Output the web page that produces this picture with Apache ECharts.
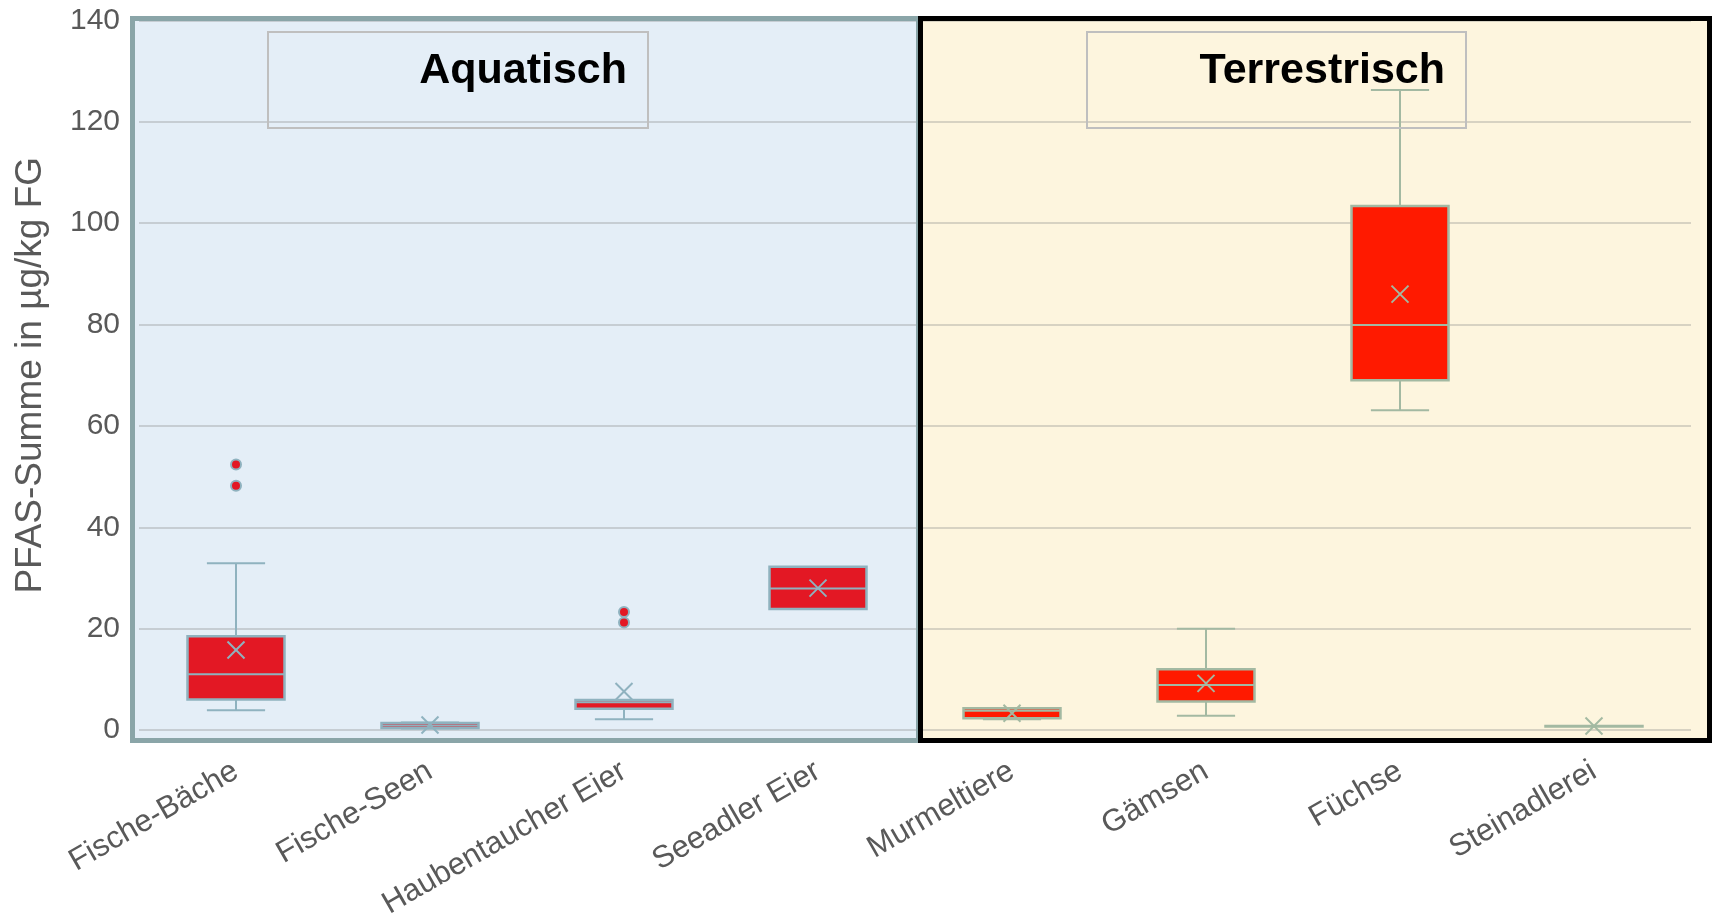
<!DOCTYPE html>
<html><head><meta charset="utf-8">
<script src="https://cdn.jsdelivr.net/npm/echarts@6/dist/echarts.min.js"></script>
<style>html,body{margin:0;padding:0;background:#fff}#c{width:1715px;height:918px}</style>
</head><body><div id="c"></div>
<script>
// ---- data ----
const categories = ['Fische-Bäche', 'Fische-Seen', 'Haubentaucher Eier', 'Seeadler Eier', 'Murmeltiere', 'Gämsen', 'Füchse', 'Steinadlerei'];
const groups = ['aquatisch', 'aquatisch', 'aquatisch', 'aquatisch', 'terrestrisch', 'terrestrisch', 'terrestrisch', 'terrestrisch'];
const minVals  = [3.9, 0.3, 2.1, 23.9, 2.1, 2.8, 63.1, 0.8];
const q1Vals   = [6.0, 0.4, 4.2, 23.9, 2.3, 5.6, 69.0, 0.8];
const medVals  = [11.0, 0.9, 5.5, 27.9, 3.8, 8.9, 79.9, 0.8];
const q3Vals   = [18.5, 1.4, 5.9, 32.2, 4.3, 12.0, 103.4, 0.8];
const maxVals  = [32.9, 1.5, 5.9, 32.2, 4.3, 20.0, 126.3, 0.8];
const meanVals = [15.8, 1.0, 7.6, 28.0, 3.3, 9.2, 86.0, 0.8];
const outlierCats = [0, 0, 2, 2];
const outlierVals = [52.4, 48.2, 23.3, 21.2];
const yMin = 0, yMax = 140, yStep = 20;
const yAxisTitle = 'PFAS-Summe in µg/kg FG';
const panelTitles = ['Aquatisch', 'Terrestrisch'];

// ---- styles ----
const FONT = "'Liberation Sans', Arial, sans-serif";
const styles = {
  aquatisch:   { fill: '#e31824', edge: '#8fb2bf' },
  terrestrisch:{ fill: '#ff1a00', edge: '#a3b9a2' }
};

const boxData = categories.map((c, i) => [i, minVals[i], q1Vals[i], medVals[i], q3Vals[i], maxVals[i], meanVals[i]]);
const outlierData = outlierCats.map((c, i) => [c, outlierVals[i]]);

function renderBox(params, api) {
  const i = api.value(0);
  const mn = api.value(1), q1 = api.value(2), md = api.value(3), q3 = api.value(4), mx = api.value(5), mean = api.value(6);
  const band = api.size([1, 0])[0];
  const bw = band * 0.5;
  const cap = band * 0.15;
  const cx = api.coord([i, 0])[0];
  const y = v => api.coord([i, v])[1];
  const st = styles[groups[i]];
  const ls = { stroke: st.edge, lineWidth: 2, fill: null };
  const ch = [];
  if (mx > q3) {
    ch.push({ type: 'line', shape: { x1: cx, y1: y(q3), x2: cx, y2: y(mx) }, style: ls });
    ch.push({ type: 'line', shape: { x1: cx - cap, y1: y(mx), x2: cx + cap, y2: y(mx) }, style: ls });
  }
  if (mn < q1) {
    ch.push({ type: 'line', shape: { x1: cx, y1: y(q1), x2: cx, y2: y(mn) }, style: ls });
    ch.push({ type: 'line', shape: { x1: cx - cap, y1: y(mn), x2: cx + cap, y2: y(mn) }, style: ls });
  }
  ch.push({ type: 'rect', shape: { x: cx - bw / 2, y: y(q3), width: bw, height: Math.max(y(q1) - y(q3), 0.5) },
            style: { fill: st.fill, stroke: st.edge, lineWidth: 2.5 } });
  ch.push({ type: 'line', shape: { x1: cx - bw / 2, y1: y(md), x2: cx + bw / 2, y2: y(md) }, style: ls });
  const ym = y(mean), h = 8.5;
  ch.push({ type: 'line', shape: { x1: cx - h, y1: ym - h, x2: cx + h, y2: ym + h }, style: ls });
  ch.push({ type: 'line', shape: { x1: cx - h, y1: ym + h, x2: cx + h, y2: ym - h }, style: ls });
  return { type: 'group', children: ch };
}

const chart = echarts.init(document.getElementById('c'), null, { renderer: 'canvas' });
const option = {
  animation: false,
  textStyle: { fontFamily: FONT },
  grid: { left: 139, right: 24, top: 20.5, bottom: 188, containLabel: false, outerBoundsMode: 'none' },
  xAxis: {
    type: 'category', data: categories,
    axisLine: { show: false }, axisTick: { show: false },
    axisLabel: { rotate: 30, margin: 39, fontSize: 31, color: '#595959', fontFamily: FONT, interval: 0 },
    splitLine: { show: false }
  },
  yAxis: {
    type: 'value', min: yMin, max: yMax, interval: yStep,
    axisLine: { show: false }, axisTick: { show: false },
    axisLabel: { fontSize: 30, color: '#595959', margin: 19, fontFamily: FONT },
    splitLine: { show: true, lineStyle: { color: 'rgba(130,130,130,0.30)', width: 2 } },
    name: yAxisTitle, nameLocation: 'middle', nameGap: 90,
    nameTextStyle: { fontSize: 37, color: '#595959', fontFamily: FONT }
  },
  graphic: [
    { type: 'rect', z: -10, shape: { x: 130, y: 16, width: 790, height: 727 }, style: { fill: '#e4eef7' } },
    { type: 'rect', z: -10, shape: { x: 918, y: 16, width: 794, height: 727 }, style: { fill: '#fdf5de' } },
    { type: 'rect', z: 50, shape: { x: 132.5, y: 18.5, width: 786, height: 722 }, style: { fill: null, stroke: '#8aa5a8', lineWidth: 5 } },
    { type: 'rect', z: 51, shape: { x: 920.5, y: 18.5, width: 789, height: 722 }, style: { fill: null, stroke: '#000', lineWidth: 5 } },
    { type: 'rect', z: 52, shape: { x: 268, y: 32, width: 380, height: 96 }, style: { fill: null, stroke: '#bfbfbf', lineWidth: 2 } },
    { type: 'rect', z: 52, shape: { x: 1087, y: 32, width: 379, height: 96 }, style: { fill: null, stroke: '#bfbfbf', lineWidth: 2 } },
    { type: 'text', z: 53, x: 627, y: 71, style: { text: panelTitles[0], fill: '#000', font: "bold 43px 'Liberation Sans', Arial, sans-serif", textAlign: 'right', textVerticalAlign: 'middle' } },
    { type: 'text', z: 53, x: 1445, y: 71, style: { text: panelTitles[1], fill: '#000', font: "bold 43px 'Liberation Sans', Arial, sans-serif", textAlign: 'right', textVerticalAlign: 'middle' } }
  ],
  series: [
    {
      type: 'custom', renderItem: renderBox, data: boxData,
      encode: { x: 0, y: [1, 2, 3, 4, 5, 6] }, z: 5
    },
    {
      type: 'scatter', data: outlierData, symbol: 'circle', symbolSize: 10, z: 6,
      itemStyle: { color: '#e31824', borderColor: '#8fb2bf', borderWidth: 2, opacity: 1 }
    }
  ]
};
chart.setOption(option);
</script>
</body></html>
